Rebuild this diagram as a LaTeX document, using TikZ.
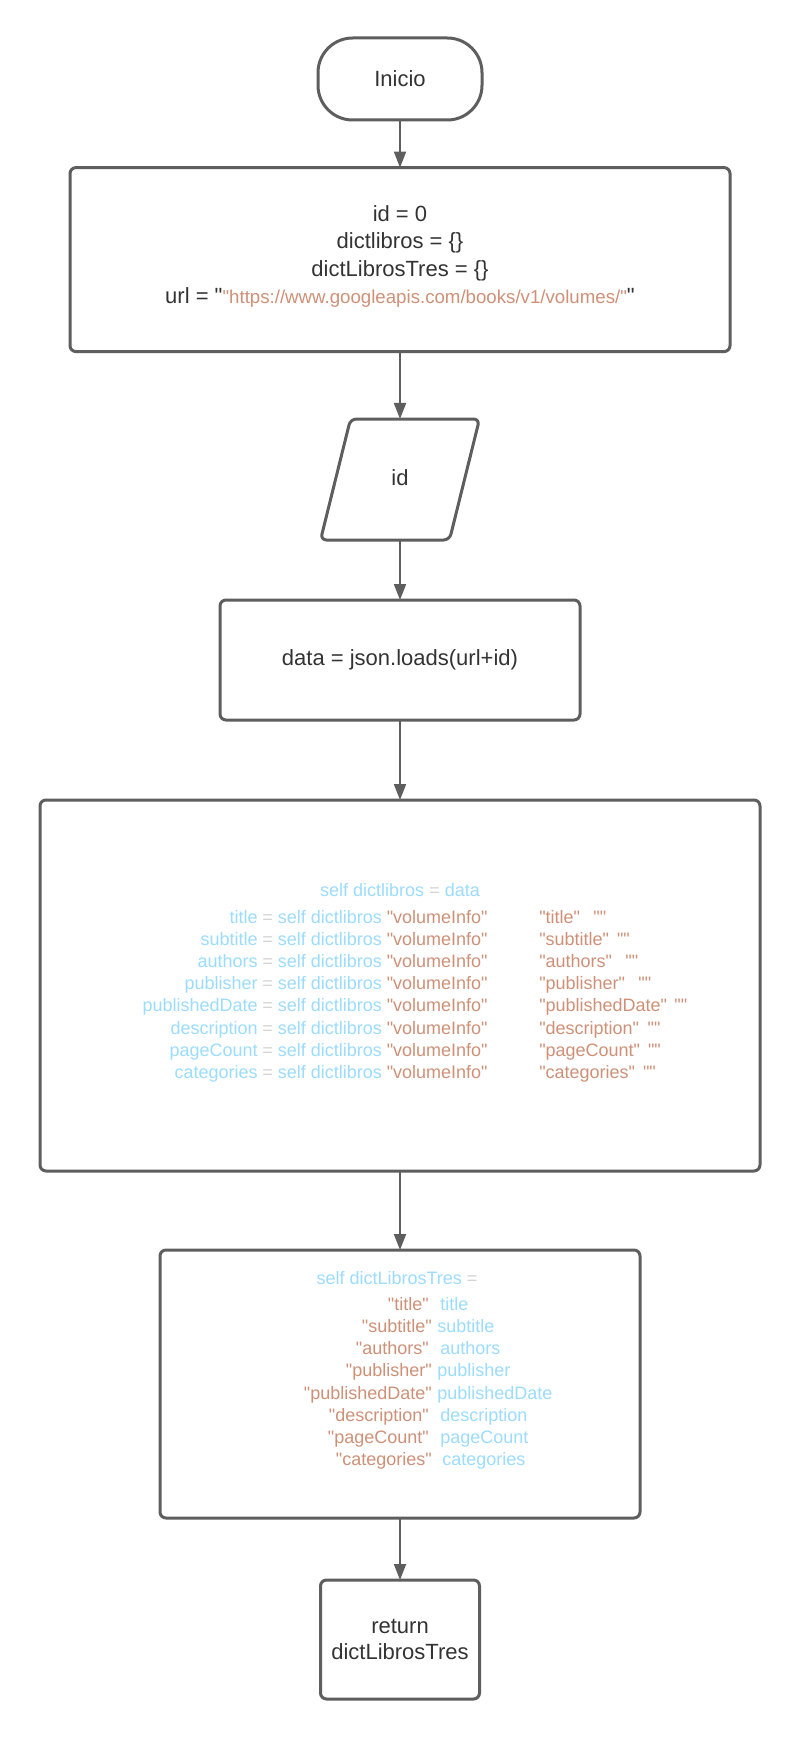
\documentclass[tikz,border=0pt]{standalone}
\usepackage{fontspec}
\setmainfont{Liberation Sans}
\usetikzlibrary{arrows.meta,positioning}
\definecolor{ink}{HTML}{333333}
\definecolor{edge}{HTML}{5E5E5E}
\definecolor{varblue}{HTML}{9CDCFE}
\definecolor{strorange}{HTML}{CE9178}
\definecolor{opgrey}{HTML}{D4D4D4}
% straight double quote, kept out of the TeX ligature mapping
\newcommand{\dq}{\XeTeXglyph\XeTeXcharglyph"22\relax}
\tikzset{
  process/.style={
    draw=edge,
    line width=2.25pt,
    rounded corners=4.5pt,
    text=ink,
    font=\fontsize{16.5}{20.5}\selectfont,
    align=center,
    inner sep=0pt,
    outer sep=0pt
  },
  terminal/.style={
    process,
    rounded corners=26pt
  },
  code/.style={
    font=\fontsize{13.5}{16.6}\selectfont,
    inner sep=0pt
  },
  flow/.style={
    -{Triangle[length=12pt,width=9pt]},
    draw=edge,
    line width=1.5pt
  }
}

\begin{document}
\begin{tikzpicture}[x=0.75pt,y=-0.75pt]
  % Page frame
  \fill[white] (0,0) rectangle (800,1740);
  \useasboundingbox (0,0) rectangle (800,1740);

  % Start
  \node[terminal, minimum width=123pt, minimum height=61.5pt] (start) at (400,79) {Inicio};

  % Initial values
  \node[process, minimum width=495pt, minimum height=138pt] (setup) at (400,259.6) {};
  \node[text=ink, font=\fontsize{16.5}{20.3}\selectfont, align=center, inner sep=0pt] (setuptext) at (400,256.5)
    {id = 0\\dictlibros = \{\}\\dictLibrosTres = \{\}\\
     url = \dq\textcolor{strorange}{\fontsize{14}{20.3}\selectfont \dq https://www.googleapis.com/books/v1/volumes/\dq}\dq};

  % Input of id (parallelogram)
  \node[text=ink, font=\fontsize{16.5}{20.5}\selectfont, inner sep=0pt, outer sep=0pt,
        minimum width=96.75pt, minimum height=90.75pt] (readid) at (400,477.5) {id};
  \draw[edge, line width=2.25pt, rounded corners=4.5pt]
    ([xshift=11.25pt,yshift=-1.5pt]readid.north west) -- ([xshift=11.25pt,yshift=-1.5pt]readid.north east)
    -- ([xshift=-11.25pt,yshift=-1.5pt]readid.south east) -- ([xshift=-11.25pt,yshift=-1.5pt]readid.south west) -- cycle;

  % Request
  \node[process, minimum width=270pt, minimum height=90pt] (load) at (400,660)
    {data = json.loads(url+id)};

  % Reading the volume fields
  \node[process, minimum width=540pt, minimum height=278.25pt] (fields) at (400,985.5) {};
  \node[code, anchor=base, text=varblue] (dicthead) at (400,896.5)
    {self dictlibros \textcolor{opgrey}{=} data};
  \foreach \key/\gap [count=\i from 0] in {title/10pt, subtitle/6pt, authors/10pt,
      publisher/10pt, publishedDate/5.5pt, description/6.5pt, pageCount/6pt, categories/6pt} {
    \node[code, anchor=base east, text=varblue] (lhs\i) at (258,{923+22.2*\i}) {\key};
    \node[code, anchor=base west] (rhs\i) at (262,{923+22.2*\i})
      {\textcolor{opgrey}{=} \textcolor{varblue}{self dictlibros} \textcolor{strorange}{\dq volumeInfo\dq}};
    \node[code, anchor=base west, text=strorange] (field\i) at (539,{923+22.2*\i})
      {\dq\key\dq\hspace{\gap}\dq\dq};
  }

  % Building the result dictionary
  \node[process, minimum width=360pt, minimum height=201pt] (build) at (400,1384) {};
  \node[code, anchor=base, text=varblue] (treshead) at (397,1284.5)
    {self dictLibrosTres \textcolor{opgrey}{=}};
  \foreach \key/\kx/\vx [count=\i from 0] in {title/429/441, subtitle/432/438, authors/429/441,
      publisher/432/438, publishedDate/432/438, description/429/441, pageCount/429/441,
      categories/432/443} {
    \node[code, anchor=base east, text=strorange] (key\i) at (\kx,{1310.3+22.2*\i}) {\dq\key\dq};
    \node[code, anchor=base west, text=varblue] (val\i) at (\vx-1,{1310.3+22.2*\i}) {\key};
  }

  % End
  \node[process, font=\fontsize{16.5}{19}\selectfont, minimum width=119.25pt, minimum height=89.25pt]
    (finish) at (400,1639.5) {return\\dictLibrosTres};

  % Connectors
  \draw[flow] (start.south) -- (setup.north);
  \draw[flow] (setup.south) -- ([yshift=-1.5pt]readid.north);
  \draw[flow] ([yshift=-1.5pt]readid.south) -- (load.north);
  \draw[flow] (load.south) -- (fields.north);
  \draw[flow] (fields.south) -- (build.north);
  \draw[flow] (build.south) -- (finish.north);
\end{tikzpicture}
\end{document}
